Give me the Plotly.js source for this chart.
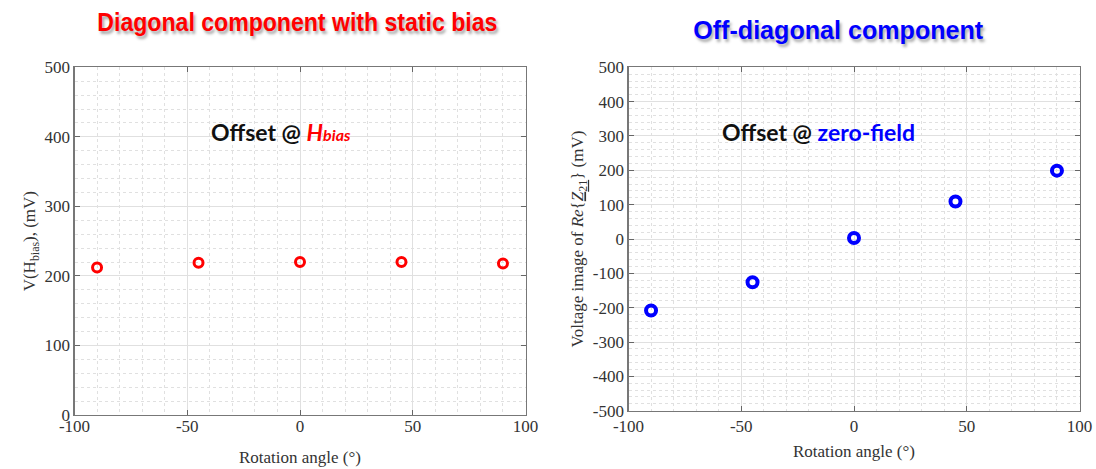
<!DOCTYPE html>
<html><head><meta charset="utf-8">
<script src="https://cdn.plot.ly/plotly-3.0.1.min.js"></script>
<style>html,body{margin:0;padding:0;background:#fff;}#chart{width:1096px;height:469px;}</style>
</head><body><div id="chart"></div>
<script>
// Data
const angles = [-90, -45, 0, 45, 90];
const diagonalBias = [212, 219, 220, 220, 218];
const offDiagonal = [-208, -126, 3, 109, 199];
const xTicks = [-100, -50, 0, 50, 100];
const leftYTicks = [0, 100, 200, 300, 400, 500];
const rightYTicks = [-500, -400, -300, -200, -100, 0, 100, 200, 300, 400, 500];

const W = 1096, H = 469;
const serif = 'Liberation Serif, Times New Roman, serif';
const tickFont = {family: serif, size: 17, color: '#333'};
const titleFont = {family: serif, size: 17, color: '#333'};

function xa(domain, anchor, labelShift, titleStandoff) {
  return {
    domain: domain, anchor: anchor, range: [-100, 100],
    tickvals: xTicks, ticktext: xTicks.map(String),
    ticks: 'inside', ticklen: 5, tickcolor: '#666', mirror: 'ticks',
    showline: true, linecolor: '#777', linewidth: 1.2,
    showgrid: true, gridcolor: '#e0e0e0', gridwidth: 1,
    minor: {dtick: 10, showgrid: true, gridcolor: '#e0e0e0', griddash: 'dot', gridwidth: 1},
    zeroline: false, tickfont: tickFont, automargin: false,
    ticklabelstandoff: labelShift,
    title: {text: 'Rotation angle (°)', font: titleFont, standoff: titleStandoff}
  };
}
function ya(domain, anchor, range, ticks, title) {
  return {
    domain: domain, anchor: anchor, range: range,
    tickvals: ticks, ticktext: ticks.map(String),
    ticks: 'inside', ticklen: 5, tickcolor: '#666', mirror: 'ticks',
    showline: true, linecolor: '#777', linewidth: 1.2,
    showgrid: true, gridcolor: '#e0e0e0', gridwidth: 1,
    minor: {dtick: 20, showgrid: true, gridcolor: '#e0e0e0', griddash: 'dot', gridwidth: 1},
    zeroline: false, tickfont: tickFont, automargin: false,
    title: {text: title, font: titleFont, standoff: 4}
  };
}

const traces = [
  {x: angles, y: diagonalBias, xaxis: 'x', yaxis: 'y', mode: 'markers', type: 'scatter',
   marker: {symbol: 'circle-open', size: 9, color: '#ff0000', line: {width: 3, color: '#ff0000'}}},
  {x: angles, y: offDiagonal, xaxis: 'x2', yaxis: 'y2', mode: 'markers', type: 'scatter',
   marker: {symbol: 'circle-open', size: 10, color: '#0000ff', line: {width: 4, color: '#0000ff'}}}
];

const headFont = 'Liberation Sans, Arial, sans-serif';
const calib = 'Lato, Open Sans, sans-serif';

function ann(x, y, text, font) {
  return {xref: 'paper', yref: 'paper', x: x / W, y: 1 - y / H, xanchor: 'center', yanchor: 'middle',
          text: text, showarrow: false, font: font};
}

const layout = {
  width: W, height: H, margin: {l: 0, r: 0, t: 0, b: 0},
  paper_bgcolor: '#fff', plot_bgcolor: '#fff', showlegend: false,
  xaxis: xa([74.5 / W, 525.5 / W], 'y', -5, 16),
  yaxis: ya([54 / H, 401.7 / H], 'x', [0, 500], leftYTicks, 'V(H<sub>bias</sub>), (mV)'),
  xaxis2: xa([628.5 / W, 1079.5 / W], 'y2', 0, 9),
  yaxis2: ya([58.3 / H, 401.7 / H], 'x2', [-500, 500], rightYTicks, 'Voltage image of <i>Re</i>{<u><i>Z</i><sub>21</sub></u>} (mV)'),
  annotations: [
    ann(297, 22, 'Diagonal component with static bias',
        {family: headFont, size: 26, color: '#ff0000', weight: 'bold', shadow: '2px 3px 3px #aaaaaa'}),
    ann(838, 30, 'Off-diagonal component',
        {family: headFont, size: 26, color: '#0000ff', weight: 'bold', shadow: '2px 3px 3px #aaaaaa'}),
    ann(281, 132, 'Offset @ <span style="color:#ff0000"><i>H</i><i><span style="font-size:16px">bias</span></i></span>',
        {family: calib, size: 23, color: '#111', weight: 'bold'}),
    ann(818, 132, 'Offset @ <span style="color:#0000ff">zero-field</span>',
        {family: calib, size: 23, color: '#111', weight: 'bold'})
  ]
};

Plotly.newPlot('chart', traces, layout, {staticPlot: true, displayModeBar: false}).then(function () {
  // condense the heading texts horizontally to the narrow look of the original
  const targets = {'Diagonal component with static bias': 400, 'Off-diagonal component': 290};
  document.querySelectorAll('.annotation-text').forEach(function (t) {
    const w = targets[t.textContent];
    if (w) {
      t.setAttribute('textLength', w);
      t.setAttribute('lengthAdjust', 'spacingAndGlyphs');
    }
  });
});
</script></body></html>
